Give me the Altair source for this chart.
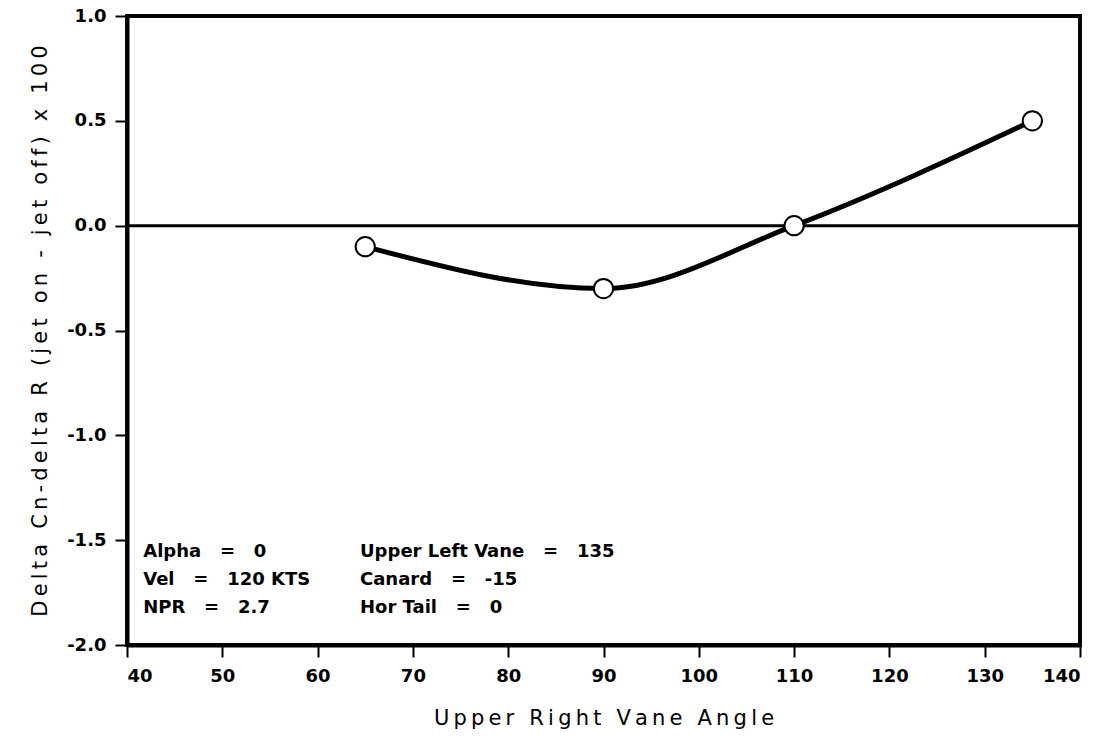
import altair as alt
import pandas as pd

angles = [65, 90, 110, 135]
delta_cn = [-0.1, -0.3, 0.0, 0.5]

NB = "\u00a0"
EQ = NB * 3 + "=" + NB * 3
note_col1 = ["Alpha" + EQ + "0", "Vel" + EQ + "120" + NB + "KTS", "NPR" + EQ + "2.7"]
note_col2 = ["Upper" + NB + "Left" + NB + "Vane" + EQ + "135", "Canard" + EQ + "-15", "Hor" + NB + "Tail" + EQ + "0"]
note_y = [-1.557, -1.690, -1.824]
note_x1 = 41.7
note_x2 = 64.45

x_ticks = [40, 50, 60, 70, 80, 90, 100, 110, 120, 130, 140]
y_ticks = [-2.0, -1.5, -1.0, -0.5, 0.0, 0.5, 1.0]

x_title = "Upper Right Vane Angle"
y_title = "Delta Cn-delta R (jet on - jet off) x 100"


def spaced(s):
    # wide tracking of the original lettering, kept as real text
    return "\u2009".join(NB if c == " " else c for c in s)


df = pd.DataFrame({"angle": angles, "dcn": delta_cn})
notes = pd.DataFrame({
    "x": [note_x1] * 3 + [note_x2] * 3,
    "y": note_y + note_y,
    "t": note_col1 + note_col2,
})
zero = pd.DataFrame({"y": [0.0]})

FONT = "DejaVu Sans"

xscale = alt.Scale(domain=[40, 140], nice=False, zero=False)
yscale = alt.Scale(domain=[-2.0, 1.0], nice=False, zero=False)

common = dict(grid=False, labelFontWeight="bold", labelFontSize=18,
              titleFontSize=21, titleFontWeight="normal",
              tickSize=12, tickWidth=2, domainWidth=4,
              domainColor="black", tickColor="black", labelColor="black",
              titleColor="black", labelFont=FONT, titleFont=FONT)

xaxis = alt.Axis(values=x_ticks, format="d", title=spaced(x_title),
                 titlePadding=22, labelPadding=10, **common)
yaxis = alt.Axis(values=y_ticks,
                 labelExpr="datum.value < 0 ? '-' + format(-datum.value, '.1f') : format(datum.value, '.1f')",
                 title=spaced(y_title),
                 titlePadding=16, labelPadding=9, **common)

base = alt.Chart(df)

zero_line = alt.Chart(zero).mark_rule(color="black", strokeWidth=3).encode(
    y=alt.Y("y:Q", scale=yscale, axis=yaxis))

line = base.mark_line(color="black", strokeWidth=5, interpolate="monotone").encode(
    x=alt.X("angle:Q", scale=xscale, axis=xaxis),
    y=alt.Y("dcn:Q", scale=yscale, axis=yaxis))

points = base.mark_point(shape="circle", size=370, filled=True, fill="white",
                         stroke="black", strokeWidth=2, opacity=1).encode(
    x=alt.X("angle:Q", scale=xscale),
    y=alt.Y("dcn:Q", scale=yscale))

text = alt.Chart(notes).mark_text(align="left", baseline="middle", fontSize=18,
                                  fontWeight="bold", font=FONT, color="black").encode(
    x=alt.X("x:Q", scale=xscale),
    y=alt.Y("y:Q", scale=yscale),
    text="t:N")

chart = alt.layer(zero_line, line, points, text).properties(
    width=953, height=629,
    padding={"left": 127, "top": 16, "right": 29, "bottom": 95},
    autosize=alt.AutoSizeParams(type="none"),
    background="white",
).configure_view(stroke="black", strokeWidth=4)

chart.save("out.html", embed_options={"renderer": "svg", "actions": False})
